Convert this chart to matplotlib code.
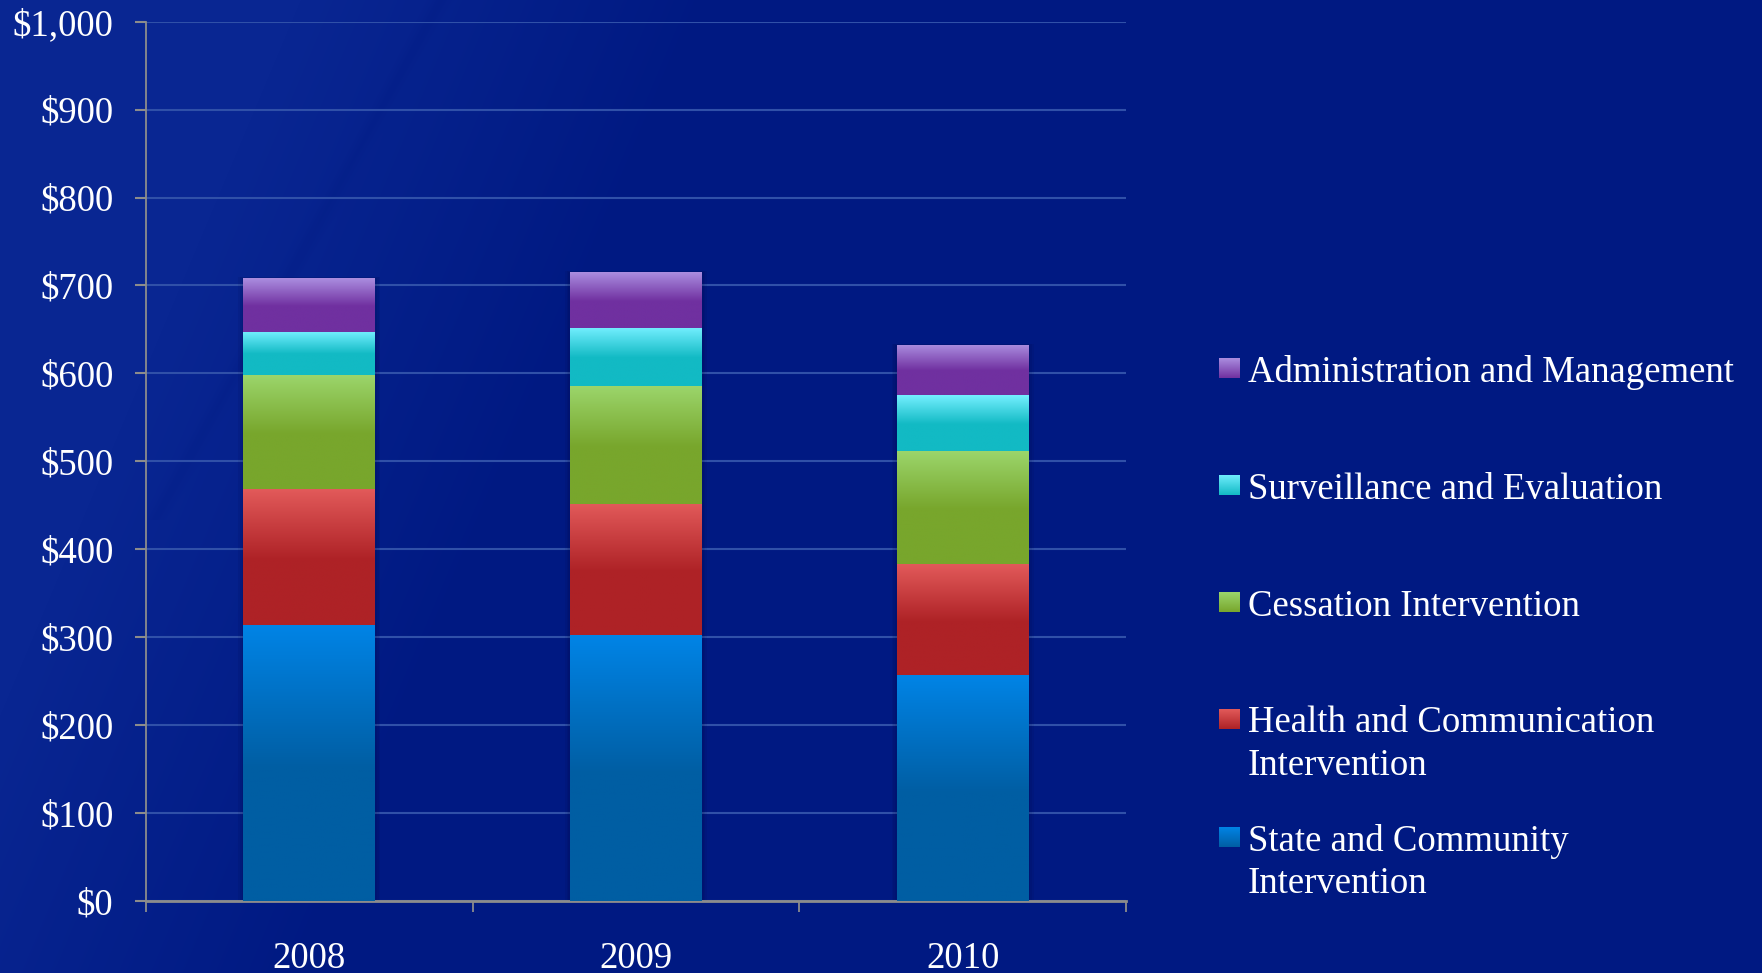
import numpy as np
import matplotlib
matplotlib.use("Agg")
import matplotlib.pyplot as plt
from matplotlib.colors import to_rgb
from matplotlib.ticker import FuncFormatter, FixedLocator

# ---- data (millions of dollars) ----
years = ["2008", "2009", "2010"]
state_community = [314, 302, 257]
health_communication = [154, 149, 126]
cessation = [130, 135, 129]
surveillance = [49, 66, 63]
administration = [61, 63, 57]

series_names = [
    "State and Community\nIntervention",
    "Health and Communication\nIntervention",
    "Cessation Intervention",
    "Surveillance and Evaluation",
    "Administration and Management",
]
series_values = [state_community, health_communication, cessation,
                 surveillance, administration]
light_colors = ["#0084e6", "#e25a5a", "#9cd66c", "#74efff", "#ab8ee0"]
base_colors = ["#005ea3", "#ae2226", "#78a62c", "#12bac4", "#7030a0"]

plt.rcParams["font.family"] = ["Liberation Serif", "DejaVu Serif"]
FS = 26.5
W, H, DPI = 1762, 973, 100
fig = plt.figure(figsize=(W / DPI, H / DPI), dpi=DPI)

# ---- slide background: deep blue with a lighter diagonal sweep on the left ----
bg_ax = fig.add_axes([0, 0, 1, 1], zorder=-10)
yy, xx = np.mgrid[0:H, 0:W].astype(float)
base_bg = np.array([0, 25, 130]) / 255.0
lite_bg = np.array([9, 38, 146]) / 255.0
diag = xx + 0.42 * yy
w1 = np.clip((720 - diag) / 420.0, 0, 1)
streak = np.exp(-((xx + 0.55 * yy - 440) / 8.0) ** 2) * (yy < 520) * 0.18
mix = np.clip(w1 - streak, 0, 1)
bg = base_bg[None, None, :] * (1 - mix[..., None]) + lite_bg[None, None, :] * mix[..., None]
bg_ax.imshow(bg, extent=(0, 1, 0, 1), aspect="auto", interpolation="bilinear")
bg_ax.set_axis_off()


def gradient(c_light, c_base, n=256, frac=0.52):
    t = np.linspace(0, 1, n)
    w = np.clip(t / frac, 0, 1)
    a, b = np.array(to_rgb(c_light)), np.array(to_rgb(c_base))
    cols = (1 - w)[:, None] * a + w[:, None] * b
    return cols[:, None, :]


# ---- chart axes ----
left, right = 146 / W, 1126 / W
bottom, top = 1 - 901 / H, 1 - 21.7 / H
ax = fig.add_axes([left, bottom, right - left, top - bottom])
ax.set_facecolor("none")

x = np.arange(len(years))
bar_w = 0.404
totals = np.sum(series_values, axis=0)

# soft drop shadow behind each stacked column
for extra in [0.03, 0.02, 0.01]:
    ax.bar(x, totals + extra * 120, width=bar_w + extra, bottom=-extra * 60,
           color="#000030", alpha=0.07, linewidth=0, zorder=2)

bottoms = np.zeros(len(years))
for vals, cl, cb in zip(series_values, light_colors, base_colors):
    bars = ax.bar(x, vals, width=bar_w, bottom=bottoms, color=cb,
                  linewidth=0, zorder=3)
    img = gradient(cl, cb)
    for patch in bars:
        bx, by = patch.get_x(), patch.get_y()
        bw, bh = patch.get_width(), patch.get_height()
        im = ax.imshow(img, extent=(bx, bx + bw, by, by + bh), aspect="auto",
                       interpolation="bilinear", zorder=4)
        im.set_clip_path(patch)
    bottoms = bottoms + np.array(vals)

ax.set_xlim(-0.5, len(years) - 0.5)
ax.set_ylim(0, 1000)

# gridlines and axes styling
ax.yaxis.set_major_locator(FixedLocator(np.arange(0, 1001, 100)))
ax.yaxis.set_major_formatter(FuncFormatter(lambda v, p: f"${v:,.0f}"))
ax.grid(axis="y", color="#3050a8", linewidth=1.5, zorder=1)
ax.set_axisbelow(True)

ax.xaxis.set_major_locator(FixedLocator(np.arange(len(years) + 1) - 0.5))
ax.xaxis.set_major_formatter(FuncFormatter(lambda v, p: ""))
ax.xaxis.set_minor_locator(FixedLocator(x))
ax.set_xticklabels(years, minor=True)

for side in ("top", "right"):
    ax.spines[side].set_visible(False)
for side in ("left", "bottom"):
    ax.spines[side].set_color("#8c8c8c")
ax.spines["left"].set_linewidth(1.3)
ax.spines["bottom"].set_linewidth(2.0)

ax.tick_params(axis="y", which="major", direction="out", length=8, width=1.5,
               color="#8c8c8c", labelcolor="white", labelsize=FS, pad=15.5)
ax.tick_params(axis="x", which="major", direction="out", length=8, width=1.3,
               color="#8c8c8c")
ax.tick_params(axis="x", which="minor", length=0, labelcolor="white",
               labelsize=FS, pad=29)

# ---- legend (top entry = top of stack) ----
sq = 20
centers = [837, 719, 602, 485, 368]
for name, cl, cb, cy in zip(series_names, light_colors, base_colors, centers):
    lx0, ly0 = 1219, cy - sq / 2
    leg_ax = fig.add_axes([lx0 / W, 1 - (ly0 + sq) / H, sq / W, sq / H])
    leg_ax.imshow(gradient(cl, cb, frac=1.0), extent=(0, 1, 0, 1),
                  aspect="auto", interpolation="bilinear")
    leg_ax.set_axis_off()
    fig.text(1248 / W, 1 - (cy - 13) / H, name, color="white", fontsize=FS,
             ha="left", va="top", linespacing=1.3)

fig.savefig("out.png", dpi=DPI)
